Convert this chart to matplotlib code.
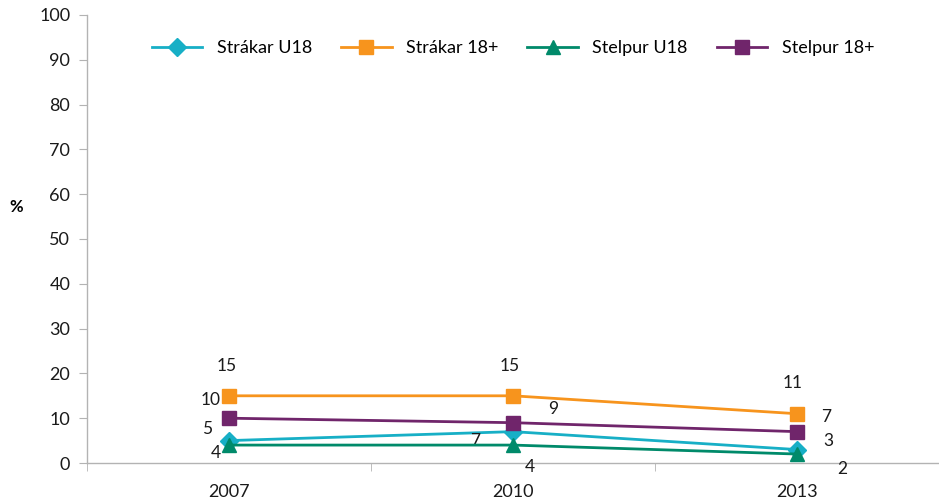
import matplotlib.pyplot as plt

# survey years and share (%) per group
years = ['2007', '2010', '2013']
strakar_u18 = [5, 7, 3]
strakar_18 = [15, 15, 11]
stelpur_u18 = [4, 4, 2]
stelpur_18 = [10, 9, 7]

plt.rcParams['font.family'] = ['Lato', 'DejaVu Sans']

fig = plt.figure(figsize=(9.39, 5.04), dpi=100)
ax = fig.add_axes([87 / 939, 1 - 463 / 504, 852 / 939, 448 / 504])

x = range(len(years))
px = 0.72  # pixels -> points

series = [
    ('Stråkar U18', strakar_u18, '#17AFC6', 'D', 9,
     [(-22, 12), (-38, -9), (31, 9)]),
    ('Stråkar 18+', strakar_18, '#F7941D', 's', 10,
     [(-2, 30), (-3, 30), (-4, 31)]),
    ('Stelpur U18', stelpur_u18, '#008A6A', '^', 10,
     [(-13, -8), (17, -22), (45, -15)]),
    ('Stelpur 18+', stelpur_18, '#70256B', 's', 10,
     [(-18, 18), (40, 14), (29, 15)]),
]

for name, vals, col, mk, ms, offs in series:
    ax.plot(x, vals, color=col, lw=2.0, marker=mk, markersize=ms,
            label=name.replace('å', 'á'), zorder=3)
    for i, v in enumerate(vals):
        ax.annotate(str(v), (i, v), xytext=(offs[i][0] * px, offs[i][1] * px),
                    textcoords='offset points', ha='center', va='center',
                    fontsize=12.5, color='#1a1a1a')

ax.set_xlim(-0.5, 2.5)
ax.set_ylim(0, 100)
ax.set_yticks(range(0, 101, 10))
ax.set_xticks(list(x))
ax.set_xticklabels(years)
ax.set_xticks([-0.5, 0.5, 1.5, 2.5], minor=True)

for s in ['top', 'right']:
    ax.spines[s].set_visible(False)
for s in ['left', 'bottom']:
    ax.spines[s].set_color('#b3b3b3')
    ax.spines[s].set_linewidth(1.0)

ax.tick_params(axis='y', length=6, color='#b3b3b3', labelsize=13,
               labelcolor='#1a1a1a', pad=6)
ax.tick_params(axis='x', which='major', length=0, labelsize=13,
               labelcolor='#1a1a1a', pad=15)
ax.tick_params(axis='x', which='minor', length=6, color='#b3b3b3')

ax.set_ylabel('%', rotation=0, fontsize=12, fontweight='bold', labelpad=0)
ax.yaxis.set_label_coords(-71 / 852, (463 - 215) / 448)

ax.legend(loc='upper center', bbox_to_anchor=(0.5, 0.98), ncol=4,
          frameon=False, fontsize=13, handlelength=2.8, columnspacing=1.6,
          handletextpad=0.8)

fig.savefig('out.png', dpi=100)
